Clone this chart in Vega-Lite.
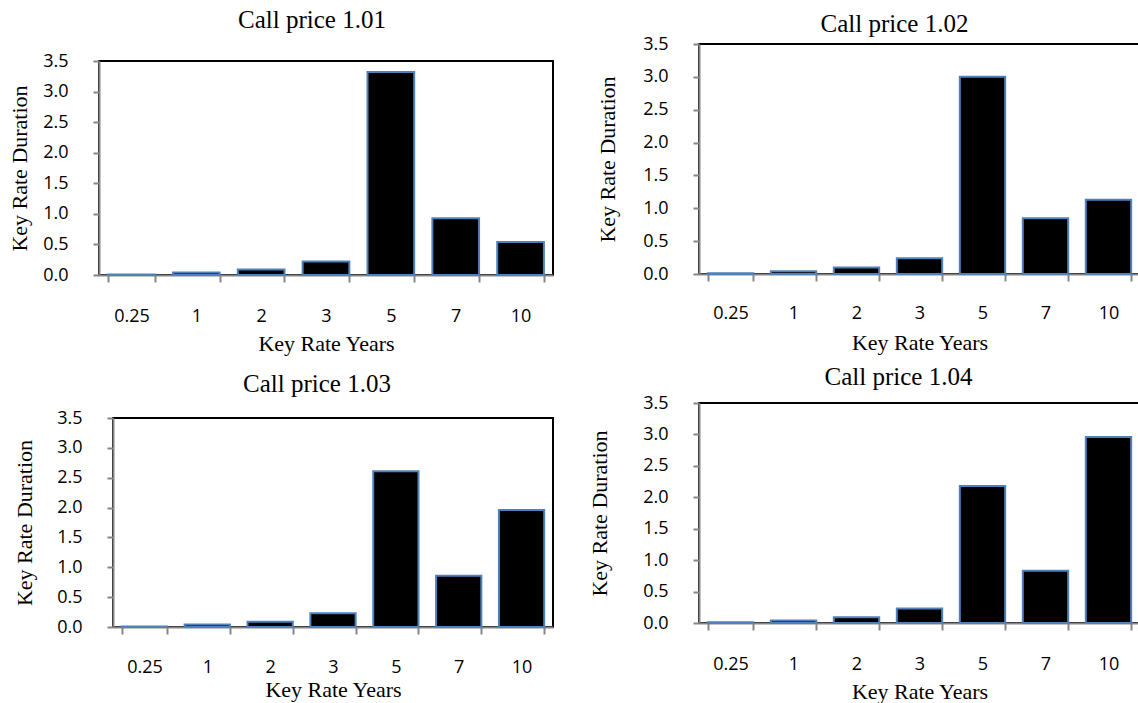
{
  "$schema": "https://vega.github.io/schema/vega-lite/v6.json",
  "padding": 0,
  "background": "white",
  "datasets": {
    "krd": [
      {"panel": "1.01", "year": "0.25", "value": 0.01},
      {"panel": "1.01", "year": "1", "value": 0.04},
      {"panel": "1.01", "year": "2", "value": 0.09},
      {"panel": "1.01", "year": "3", "value": 0.22},
      {"panel": "1.01", "year": "5", "value": 3.32},
      {"panel": "1.01", "year": "7", "value": 0.93},
      {"panel": "1.01", "year": "10", "value": 0.54},
      {"panel": "1.02", "year": "0.25", "value": 0.01},
      {"panel": "1.02", "year": "1", "value": 0.04},
      {"panel": "1.02", "year": "2", "value": 0.1},
      {"panel": "1.02", "year": "3", "value": 0.24},
      {"panel": "1.02", "year": "5", "value": 3.0},
      {"panel": "1.02", "year": "7", "value": 0.85},
      {"panel": "1.02", "year": "10", "value": 1.13},
      {"panel": "1.03", "year": "0.25", "value": 0.01},
      {"panel": "1.03", "year": "1", "value": 0.04},
      {"panel": "1.03", "year": "2", "value": 0.09},
      {"panel": "1.03", "year": "3", "value": 0.23},
      {"panel": "1.03", "year": "5", "value": 2.61},
      {"panel": "1.03", "year": "7", "value": 0.86},
      {"panel": "1.03", "year": "10", "value": 1.96},
      {"panel": "1.04", "year": "0.25", "value": 0.01},
      {"panel": "1.04", "year": "1", "value": 0.04},
      {"panel": "1.04", "year": "2", "value": 0.09},
      {"panel": "1.04", "year": "3", "value": 0.23},
      {"panel": "1.04", "year": "5", "value": 2.18},
      {"panel": "1.04", "year": "7", "value": 0.83},
      {"panel": "1.04", "year": "10", "value": 2.96}
    ],
    "blank": [{"k": 0}]
  },
  "spacing": 33,
  "hconcat": [
    {
      "spacing": 0,
      "vconcat": [
        {"width": 1, "height": 7, "view": {"stroke": null}, "data": {"name": "blank"}, "mark": {"type": "rect", "opacity": 0}, "encoding": {}},
        {
          "spacing": 0,
          "hconcat": [
            {"width": 7, "height": 1, "view": {"stroke": null}, "data": {"name": "blank"}, "mark": {"type": "rect", "opacity": 0}, "encoding": {}},
            {
              "width": 454, "height": 214,
              "title": {"text": "Call price 1.01", "offset": 19, "dx": -14, "frame": "group"},
              "data": {"name": "krd"},
              "transform": [{"filter": {"field": "panel", "equal": "1.01"}}],
              "mark": {"type": "bar", "fill": "black", "stroke": "#4f81bd", "strokeWidth": 2},
              "encoding": {
                "x": {"field": "year", "type": "ordinal", "sort": ["0.25", "1", "2", "3", "5", "7", "10"], "scale": {"paddingInner": 0.28, "paddingOuter": 0.14}, "axis": {"title": "Key Rate Years", "labelPadding": 25, "titlePadding": 8}},
                "y": {"field": "value", "type": "quantitative", "scale": {"domain": [0, 3.5], "nice": false}, "axis": {"title": "Key Rate Duration", "values": [0, 0.5, 1, 1.5, 2, 2.5, 3, 3.5], "format": ".1f", "titlePadding": 11}}
              }
            }
          ]
        },
        {"width": 1, "height": 16, "view": {"stroke": null}, "data": {"name": "blank"}, "mark": {"type": "rect", "opacity": 0}, "encoding": {}},
        {
          "spacing": 0,
          "hconcat": [
            {"width": 12, "height": 1, "view": {"stroke": null}, "data": {"name": "blank"}, "mark": {"type": "rect", "opacity": 0}, "encoding": {}},
            {
              "width": 440, "height": 209,
              "title": {"text": "Call price 1.03", "offset": 12, "dx": -16, "frame": "group"},
              "data": {"name": "krd"},
              "transform": [{"filter": {"field": "panel", "equal": "1.03"}}],
              "mark": {"type": "bar", "fill": "black", "stroke": "#4f81bd", "strokeWidth": 2},
              "encoding": {
                "x": {"field": "year", "type": "ordinal", "sort": ["0.25", "1", "2", "3", "5", "7", "10"], "scale": {"paddingInner": 0.28, "paddingOuter": 0.14}, "axis": {"title": "Key Rate Years", "labelPadding": 24, "titlePadding": 3}},
                "y": {"field": "value", "type": "quantitative", "scale": {"domain": [0, 3.5], "nice": false}, "axis": {"title": "Key Rate Duration", "values": [0, 0.5, 1, 1.5, 2, 2.5, 3, 3.5], "format": ".1f", "titlePadding": 20}}
              }
            }
          ]
        }
      ]
    },
    {
      "spacing": 0,
      "vconcat": [
        {"width": 1, "height": 11, "view": {"stroke": null}, "data": {"name": "blank"}, "mark": {"type": "rect", "opacity": 0}, "encoding": {}},
        {
          "width": 441, "height": 230,
          "title": {"text": "Call price 1.02", "offset": -2, "dx": -25, "frame": "group"},
          "data": {"name": "krd"},
          "transform": [{"filter": {"field": "panel", "equal": "1.02"}}],
          "mark": {"type": "bar", "fill": "black", "stroke": "#4f81bd", "strokeWidth": 2},
          "encoding": {
            "x": {"field": "year", "type": "ordinal", "sort": ["0.25", "1", "2", "3", "5", "7", "10"], "scale": {"paddingInner": 0.28, "paddingOuter": 0.14}, "axis": {"title": "Key Rate Years", "labelPadding": 23, "titlePadding": 10}},
            "y": {"field": "value", "type": "quantitative", "scale": {"domain": [0, 3.5], "nice": false}, "axis": {"title": "Key Rate Duration", "values": [0, 0.5, 1, 1.5, 2, 2.5, 3, 3.5], "format": ".1f", "titlePadding": 23}}
          }
        },
        {"width": 1, "height": 10, "view": {"stroke": null}, "data": {"name": "blank"}, "mark": {"type": "rect", "opacity": 0}, "encoding": {}},
        {
          "width": 441, "height": 220,
          "title": {"text": "Call price 1.04", "offset": 4, "dx": -21, "frame": "group"},
          "data": {"name": "krd"},
          "transform": [{"filter": {"field": "panel", "equal": "1.04"}}],
          "mark": {"type": "bar", "fill": "black", "stroke": "#4f81bd", "strokeWidth": 2},
          "encoding": {
            "x": {"field": "year", "type": "ordinal", "sort": ["0.25", "1", "2", "3", "5", "7", "10"], "scale": {"paddingInner": 0.28, "paddingOuter": 0.14}, "axis": {"title": "Key Rate Years", "labelPadding": 25, "titlePadding": 8}},
            "y": {"field": "value", "type": "quantitative", "scale": {"domain": [0, 3.5], "nice": false}, "axis": {"title": "Key Rate Duration", "values": [0, 0.5, 1, 1.5, 2, 2.5, 3, 3.5], "format": ".1f", "titlePadding": 31}}
          }
        }
      ]
    }
  ],
  "config": {
    "view": {"stroke": "black", "strokeWidth": 2},
    "title": {"font": "Liberation Serif", "fontSize": 25, "fontWeight": "normal", "color": "black", "anchor": "middle"},
    "axis": {"domainColor": "#868686", "domainWidth": 2, "tickColor": "#868686", "tickWidth": 2, "grid": false, "labelFont": "Open Sans", "labelFontSize": 18, "labelColor": "black", "titleFont": "Liberation Serif", "titleFontSize": 22, "titleFontWeight": "normal", "titleColor": "black"},
    "axisX": {"tickBand": "extent", "tickSize": 7, "labelAngle": 0},
    "axisY": {"tickSize": 6, "labelPadding": 25}
  }
}
